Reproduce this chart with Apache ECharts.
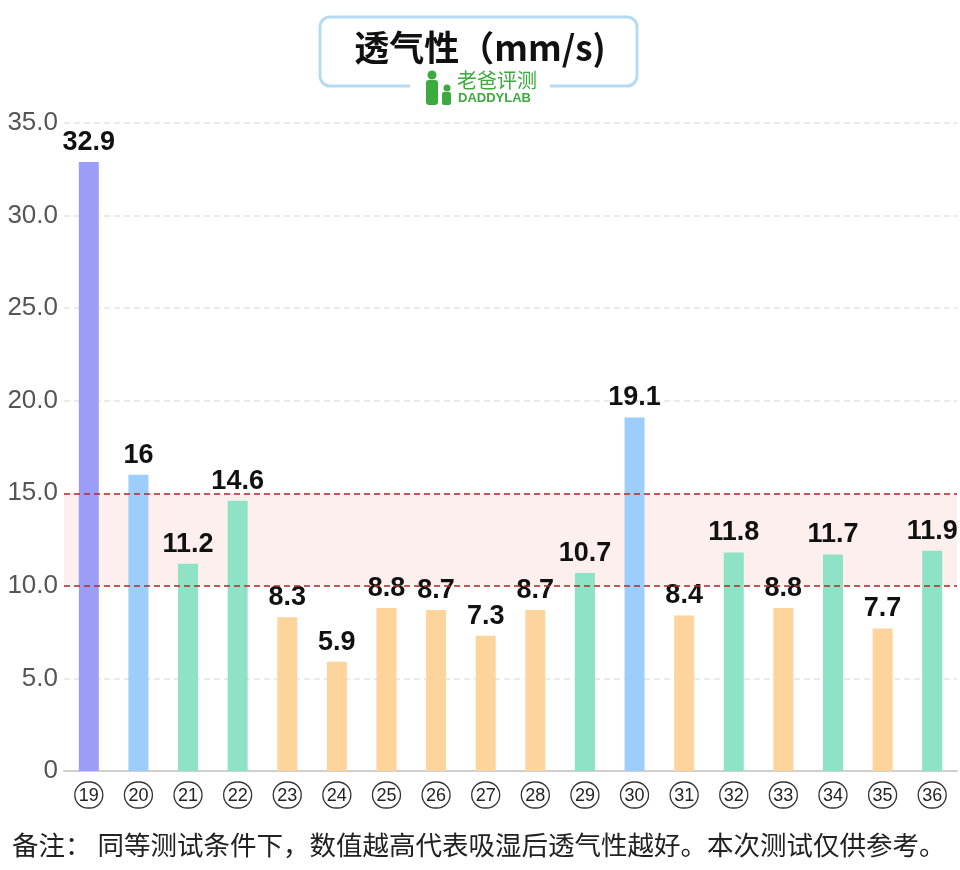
<!DOCTYPE html>
<html><head><meta charset="utf-8">
<script src="https://cdn.jsdelivr.net/npm/echarts@6/dist/echarts.min.js"></script>
<style>html,body{margin:0;padding:0;background:#fff}#c{width:960px;height:870px}</style>
</head><body><div id="c"></div>
<script>
const categories = ['19','20','21','22','23','24','25','26','27','28','29','30','31','32','33','34','35','36'];
const values = [32.9,16,11.2,14.6,8.3,5.9,8.8,8.7,7.3,8.7,10.7,19.1,8.4,11.8,8.8,11.7,7.7,11.9];
const groups = ['p','b','g','g','o','o','o','o','o','o','g','b','o','g','o','g','o','g'];
const yTicks = [0,5,10,15,20,25,30,35];
const bandRange = [10,15];
const titleText = '透气性（mm/s)';
const noteText = '备注： 同等测试条件下，数值越高代表吸湿后透气性越好。本次测试仅供参考。';

const groupColor = {p:'#9b9ef8', b:'#9dcdfb', g:'#8ee2c6', o:'#fdd49c'};
const chart = echarts.init(document.getElementById('c'));
const FF = '"Liberation Sans", Arial, Helvetica, sans-serif';
const CJK = '"Noto Sans CJK SC", sans-serif';
chart.setOption({
  animation:false,
  grid:{left:64, right:3, top:123, bottom:99, containLabel:false},
  xAxis:{type:'category', data:categories,
    axisLine:{lineStyle:{color:'#cfcfcf', width:2}}, axisTick:{show:false},
    axisLabel:{margin:11, formatter:v=>'{c|'+v+'}',
      rich:{c:{fontFamily:FF, fontSize:18, color:'#222', width:24, height:24, lineHeight:26, align:'center',
        borderColor:'#333', borderWidth:1.3, borderRadius:15, padding:[2,2,0,2]}}}},
  yAxis:{type:'value', min:0, max:35, interval:5,
    axisLine:{show:false}, axisTick:{show:false},
    splitLine:{lineStyle:{color:'#e4e4e4', type:[6,4], width:1.5}},
    axisLabel:{fontFamily:FF, fontSize:26, margin:6,
      formatter:v=> v===0?'0':v.toFixed(1),
      color:v=> (v===bandRange[0]||v===bandRange[1])?'#a3151a':'#555'}},
  series:[{type:'bar', barWidth:20,
    data:values.map((v,i)=>({value:v, itemStyle:{color:groupColor[groups[i]]}})),
    label:{show:true, position:'top', distance:6, fontFamily:FF, fontSize:27, fontWeight:'bold', color:'#111'},
    markArea:{silent:true, itemStyle:{color:'rgba(253,225,225,0.55)'}, data:[[{yAxis:bandRange[0]},{yAxis:bandRange[1]}]]},
    markLine:{silent:true, symbol:'none', label:{show:false},
      lineStyle:{color:'#b8262a', type:[6,4], width:1.5},
      data:bandRange.map(v=>({yAxis:v}))}
  }],
  graphic:[
    {type:'rect', shape:{x:320, y:17, width:317, height:69, r:10}, style:{fill:'#fff', stroke:'#b5dbf3', lineWidth:3}, z:10},
    {type:'rect', shape:{x:410, y:78, width:140, height:12}, style:{fill:'#fff'}, z:11},
    {type:'text', x:480, y:48, style:{text:titleText, fontFamily:CJK, fontSize:35, fontWeight:'bold', fill:'#111', align:'center', verticalAlign:'middle'}, z:12},
    {type:'text', x:457, y:80, style:{text:'老爸评测', fontFamily:CJK, fontSize:20, fill:'#3daa3d', align:'left', verticalAlign:'middle'}, z:12},
    {type:'text', x:458, y:98, style:{text:'DADDYLAB', fontFamily:FF, fontSize:13, fontWeight:'bold', fill:'#3daa3d', align:'left', verticalAlign:'middle'}, z:12},
    {type:'circle', shape:{cx:432, cy:75, r:4.5}, style:{fill:'#3daa3d'}, z:12},
    {type:'rect', shape:{x:426, y:80, width:12, height:25, r:3}, style:{fill:'#3daa3d'}, z:12},
    {type:'circle', shape:{cx:447, cy:88, r:3.5}, style:{fill:'#3daa3d'}, z:12},
    {type:'rect', shape:{x:442, y:92, width:9, height:13, r:2}, style:{fill:'#3daa3d'}, z:12},
    {type:'text', x:12, y:845, style:{text:noteText, fontFamily:CJK, fontSize:26.5, fill:'#222', align:'left', verticalAlign:'middle'}, z:12}
  ]
});
</script></body></html>
